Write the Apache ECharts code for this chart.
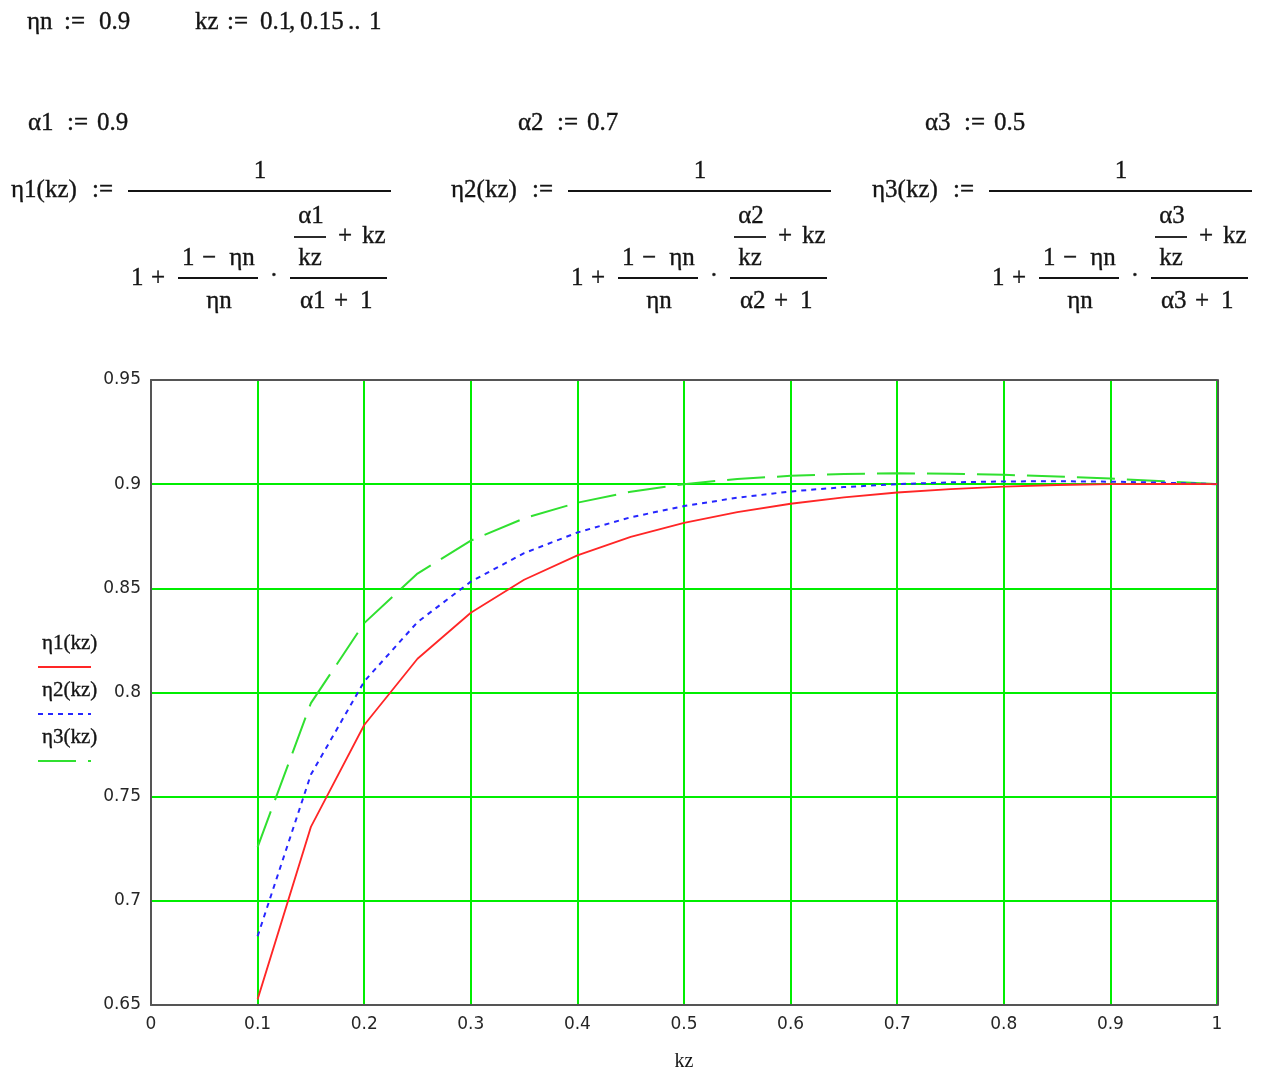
<!DOCTYPE html>
<html>
<head>
<meta charset="utf-8">
<script src="https://cdn.jsdelivr.net/npm/echarts@6/dist/echarts.min.js"></script>
<style>
  html, body { margin: 0; padding: 0; background: #ffffff; }
  #chart { width: 1264px; height: 1068px; }
</style>
</head>
<body>
<div id="chart"></div>
<script>
// Efficiency curves η1, η2, η3 over the load factor kz (ηn = 0.9; α = 0.9, 0.7, 0.5)
const kz = [0.1, 0.15, 0.2, 0.25, 0.3, 0.35, 0.4, 0.45, 0.5, 0.55,
            0.6, 0.65, 0.7, 0.75, 0.8, 0.85, 0.9, 0.95, 1.0];
const eta1 = [0.6527, 0.7355, 0.7844, 0.8162, 0.8383, 0.8541, 0.8658, 0.8747, 0.8814, 0.8866,
              0.8906, 0.8937, 0.8960, 0.8976, 0.8988, 0.8996, 0.9000, 0.9001, 0.9000];
const eta2 = [0.6830, 0.7606, 0.8053, 0.8338, 0.8532, 0.8669, 0.8768, 0.8841, 0.8895, 0.8935,
              0.8965, 0.8986, 0.9000, 0.9009, 0.9013, 0.9014, 0.9012, 0.9007, 0.9000];
const eta3 = [0.7258, 0.7949, 0.8333, 0.8571, 0.8729, 0.8836, 0.8911, 0.8964, 0.9000, 0.9025,
              0.9040, 0.9049, 0.9052, 0.9050, 0.9045, 0.9037, 0.9027, 0.9014, 0.9000];

const seriesNames = ['η1(kz)', 'η2(kz)', 'η3(kz)'];
const alphaValues = ['0.9', '0.7', '0.5'];

const xRange = [0, 1, 0.1];
const yRange = [0.65, 0.95, 0.05];

const INK = '#141414';
const SERIF = '"Liberation Serif", "Times New Roman", serif';
const SANS = '"DejaVu Sans", Tahoma, sans-serif';
const GRID_GREEN = '#00ee00';
const FRAME = '#555555';
const COLORS = ['#ff2626', '#2626ff', '#30e030'];
const DASHES = ['solid', [5, 5], [38, 12]];

function pairs(ys) { return kz.map((x, i) => [x, ys[i]]); }

// ---- worksheet text: definitions and formulas ----
const graphics = [];
function txt(x, y, s, align, size, font) {
  graphics.push({
    type: 'text', x: x, y: y, silent: true,
    style: {
      text: s, fill: INK, font: (size || 25) + 'px ' + (font || SERIF),
      textAlign: align || 'left', textVerticalAlign: 'middle',
      stroke: INK, lineWidth: 0.35
    }
  });
}
function bar(x1, x2, y) {
  graphics.push({
    type: 'line', silent: true,
    shape: { x1: x1, y1: y, x2: x2, y2: y },
    style: { stroke: INK, lineWidth: 1.8 }
  });
}

// header row
txt(27, 22, 'ηn');
txt(64, 22, ':=');
txt(99, 22, '0.9');
txt(195, 22, 'kz');
txt(227, 22, ':=');
txt(260, 22, '0.1');
txt(289, 22, ',');
txt(300, 22, '0.15');
txt(348, 22, '..');
txt(369, 22, '1');

const formulaShift = [0, 440, 861];
const alphaShift = [0, 490, 897];
for (let i = 0; i < 3; i++) {
  const n = i + 1, d = formulaShift[i], a = alphaShift[i];
  txt(28 + a, 123, 'α' + n);
  txt(67 + a, 123, ':=');
  txt(97 + a, 123, alphaValues[i]);

  txt(11 + d, 190, 'η' + n + '(kz)');
  txt(92 + d, 190, ':=');
  bar(128 + d, 391 + d, 191);
  txt(260 + d, 171, '1', 'center');

  txt(131 + d, 278, '1');
  txt(151 + d, 278, '+');
  txt(182 + d, 258, '1');
  txt(202 + d, 258, '−');
  txt(230 + 12 + d, 258, 'ηn', 'center');
  bar(178 + d, 258 + d, 278);
  txt(219 + d, 301, 'ηn', 'center');
  txt(274 + d, 276, '·', 'center');

  bar(290 + d, 387 + d, 278);
  txt(311 + d, 216, 'α' + n, 'center');
  bar(294 + d, 326 + d, 237);
  txt(310 + d, 258, 'kz', 'center');
  txt(345 + d, 236, '+', 'center');
  txt(362 + d, 236, 'kz');
  txt(300 + d, 301, 'α' + n);
  txt(334 + d, 301, '+');
  txt(360 + d, 301, '1');
}

// legend (name above a line sample)
const legendY = [643, 690, 737];
for (let i = 0; i < 3; i++) {
  txt(42, legendY[i], seriesNames[i], 'left', 21);
  graphics.push({
    type: 'line', silent: true,
    shape: { x1: 38, y1: legendY[i] + 24, x2: 91, y2: legendY[i] + 24 },
    style: { stroke: COLORS[i], lineWidth: 2, lineDash: DASHES[i] === 'solid' ? null : DASHES[i] }
  });
}

const chart = echarts.init(document.getElementById('chart'), null, { renderer: 'canvas' });

const frameLine = { show: true, onZero: false, lineStyle: { color: FRAME, width: 2 } };
const tickFont = { color: '#262626', fontFamily: SANS, fontSize: 17 };

chart.setOption({
  animation: false,
  backgroundColor: '#ffffff',
  grid: { left: 151, right: 47, top: 380, bottom: 63, containLabel: false, outerBoundsMode: 'none' },
  xAxis: [{
    type: 'value', min: xRange[0], max: xRange[1], interval: xRange[2],
    position: 'bottom',
    axisLine: frameLine,
    axisTick: { show: false },
    axisLabel: Object.assign({ margin: 11, formatter: v => String(+v.toFixed(2)) }, tickFont),
    splitLine: { show: true, showMinLine: false, showMaxLine: true,
                 lineStyle: { color: GRID_GREEN, width: 2 } },
    name: 'kz', nameLocation: 'middle', nameGap: 47,
    nameTextStyle: { color: INK, fontFamily: SERIF, fontSize: 20 }
  }, {
    type: 'value', min: xRange[0], max: xRange[1], position: 'top',
    axisLine: frameLine, axisTick: { show: false }, axisLabel: { show: false },
    splitLine: { show: false }
  }],
  yAxis: [{
    type: 'value', min: yRange[0], max: yRange[1], interval: yRange[2],
    position: 'left',
    axisLine: frameLine,
    axisTick: { show: false },
    axisLabel: Object.assign({ margin: 10, formatter: v => String(+v.toFixed(2)) }, tickFont),
    splitLine: { show: true, showMinLine: false, showMaxLine: false,
                 lineStyle: { color: GRID_GREEN, width: 2 } }
  }, {
    type: 'value', min: yRange[0], max: yRange[1], position: 'right', offset: 1,
    axisLine: frameLine, axisTick: { show: false }, axisLabel: { show: false },
    splitLine: { show: false }
  }],
  series: [eta1, eta2, eta3].map((ys, i) => ({
    name: seriesNames[i], type: 'line', data: pairs(ys),
    xAxisIndex: 0, yAxisIndex: 0,
    showSymbol: false, smooth: false, clip: true,
    lineStyle: { color: COLORS[i], width: i === 0 ? 1.8 : 2, type: DASHES[i] },
    z: 3 + (2 - i)
  })),
  graphic: graphics
});
</script>
</body>
</html>
